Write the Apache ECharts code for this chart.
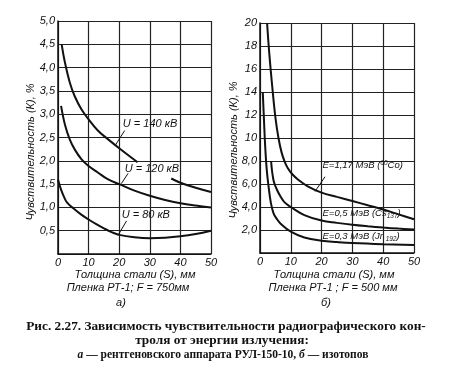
<!DOCTYPE html>
<html><head><meta charset="utf-8">
<script src="https://cdn.jsdelivr.net/npm/echarts@6/dist/echarts.min.js"></script>
<style>html,body{margin:0;padding:0;background:#fff}#c{width:450px;height:380px}</style>
</head><body><div id="c"></div>
<script>
// ---- Data ----
// Left chart (a): X-ray tube, thickness (mm) vs sensitivity (%)
const kv140 = [[1.2,4.5],[2.3,4.1],[3.9,3.67],[5.5,3.38],[7.7,3.1],[10,2.89],[13,2.65],[16.4,2.46],[20,2.27],[26,1.97],[31.5,'-'],[37,1.62],[40,1.53],[45,1.42],[50,1.33]];
const kv120 = [[1,3.18],[2.3,2.77],[3.9,2.45],[5.5,2.24],[7.7,2.03],[10,1.89],[13,1.75],[16.4,1.6],[20,1.5],[25,1.36],[30,1.25],[35,1.16],[40,1.09],[45,1.04],[50,1.0]];
const kv80  = [[0,1.6],[1,1.38],[2,1.22],[3,1.1],[5,0.98],[7.5,0.85],[10,0.74],[12.5,0.64],[15,0.55],[17.5,0.47],[20,0.41],[25,0.36],[30,0.34],[35,0.35],[40,0.38],[45,0.43],[50,0.5]];
// Right chart (б): isotopes
const co60  = [[2.3,20],[3,17.4],[4,14.4],[5,11.8],[6,10.0],[7,8.75],[8,7.95],[9,7.4],[10.5,6.85],[12.5,6.35],[15.5,5.8],[20,5.25],[25,4.88],[30,4.52],[35,4.15],[40,3.78],[45,3.36],[50,2.93]];
const cs137 = [[3.6,8],[4.4,6.3],[5.5,5.5],[6.7,4.9],[8,4.4],[10,4.0],[14.4,3.3],[20,2.82],[25,2.62],[30,2.45],[35,2.32],[40,2.21],[45,2.12],[50,2.05]];
const ir192 = [[0.9,14],[1.3,11.5],[1.7,9.2],[2.2,7.2],[2.8,5.75],[3.5,4.4],[4.4,3.45],[5.5,2.95],[6.7,2.55],[10,1.85],[14.4,1.35],[20,1.07],[25,0.95],[30,0.86],[40,0.76],[50,0.7]];

const leftLabels  = ['U = 140 кВ','U = 120 кВ','U = 80 кВ'];
const rightLabels = ['E=1,17 МэВ ({sup|60}Co)','E=0,5 МэВ (Cs{sub|137})','E=0,3 МэВ (Jr {sub|192})'];
const xTitle = 'Толщина стали (S), мм';
const yTitle = 'Чувствительность (К), %';
const filmLeft = 'Пленка РТ-1; F = 750мм';
const filmRight = 'Пленка РТ-1 ; F = 500 мм';
const caption1 = 'Рис. 2.27. Зависимость чувствительности радиографического кон-';
const caption2 = 'троля от энергии излучения:';

// ---- Chart ----
const ink = '#111';
const lab = {fontFamily:'Liberation Sans', fontStyle:'italic', fontSize:11, color:ink};
function comma(v){ return v.toFixed(1).replace('.',','); }
function toStyle(l){ return {font:'italic 11px "Liberation Sans"', fill:l.color}; }

function xAx(i){ return {type:'value', gridIndex:i, min:0, max:50, interval:10,
  axisLine:{show:true, onZero:false, lineStyle:{color:ink, width:1.5}},
  axisTick:{show:false}, splitLine:{show:true, lineStyle:{color:'#222', width:1.2}},
  axisLabel:Object.assign({margin:3}, lab)}; }

function yAx(i, max, interval, fmt){ return {type:'value', gridIndex:i, min:0, max:max, interval:interval,
  axisLine:{show:true, lineStyle:{color:ink, width:1.5}},
  axisTick:{show:false}, splitLine:{show:true, lineStyle:{color:'#222', width:1.2}},
  axisLabel:Object.assign({margin:3, formatter:fmt}, lab)}; }

const small = {fontFamily:'Liberation Sans', fontStyle:'italic', fontSize:6.5, color:ink};
function curve(data, gi, text, at, leader, fs){
  const s = {type:'line', xAxisIndex:gi, yAxisIndex:gi, data:data, smooth:0.4,
    showSymbol:false, symbol:'none', lineStyle:{color:ink, width:2}, silent:true,
    markPoint:{symbol:'circle', symbolSize:0, silent:true,
      label:Object.assign({show:true, position:'right', distance:0, formatter:text}, lab, {fontSize:fs, lineHeight:12,
        rich:{sup:Object.assign({verticalAlign:'top', lineHeight:12}, small),
              sub:Object.assign({verticalAlign:'bottom', lineHeight:12}, small)}}),
      data:[{coord:at}]}};
  if (leader) s.markLine = {symbol:'none', silent:true, label:{show:false},
      lineStyle:{color:ink, width:1, type:'solid'}, data:[[{coord:leader[0]},{coord:leader[1]}]]};
  return s;
}

const chart = echarts.init(document.getElementById('c'), null, {renderer:'canvas'});
const T = (x,y,text,extra) => Object.assign({type:'text', x:x, y:y,
  style:Object.assign({text:text, textAlign:'center', textVerticalAlign:'middle'}, toStyle(lab))}, extra||{});
chart.setOption({
  animation:false,
  backgroundColor:'#fff',
  grid:[{left:58, top:21, width:153, height:233},
        {left:260, top:23, width:154, height:230}],
  xAxis:[xAx(0), xAx(1)],
  yAxis:[yAx(0, 5, 0.5, v => v===0 ? '' : comma(v)),
         yAx(1, 20, 2, v => v===0 ? '' : (v>=10 ? String(v) : comma(v)))],
  series:[
    curve(kv140, 0, leftLabels[0], [21.2,2.8], [[18.6,2.32],[21.8,2.65]], 11),
    curve(kv120, 0, leftLabels[1], [21.8,1.82], [[20.7,1.51],[22.9,1.73]], 11),
    curve(kv80,  0, leftLabels[2], [20.8,0.84], [[19.6,0.4],[22.4,0.71]], 11),
    curve(co60,  1, rightLabels[0], [20.3,7.6], [[17.9,5.36],[21.1,6.63]], 9.5),
    curve(cs137, 1, rightLabels[1], [20.3,3.45], null, 9.5),
    curve(ir192, 1, rightLabels[2], [20.3,1.42], null, 9.5)
  ],
  graphic:[
    T(135,275,xTitle), T(128,288,filmLeft), T(121,303,'а)'),
    T(334,275,xTitle), T(333,288,filmRight), T(326,303,'б)'),
    T(31,152,yTitle,{rotation:Math.PI/2}), T(234,150,yTitle,{rotation:Math.PI/2}),
    {type:'text', x:226, y:327, style:{text:caption1, textAlign:'center', textVerticalAlign:'middle', font:'bold 13.3px "Liberation Serif"', fill:ink}},
    {type:'text', x:222, y:341, style:{text:caption2, textAlign:'center', textVerticalAlign:'middle', font:'bold 13.3px "Liberation Serif"', fill:ink}},
    {type:'text', x:223, y:355, style:{text:'{i|а} — рентгеновского аппарата РУЛ-150-10, {i|б} — изотопов', textAlign:'center', textVerticalAlign:'middle',
      font:'bold 11.5px "Liberation Serif"', fill:ink, rich:{i:{fontStyle:'italic', fontWeight:'bold', fontSize:11.5, fontFamily:'Liberation Serif', color:ink}}}}
  ]
});
</script></body></html>
